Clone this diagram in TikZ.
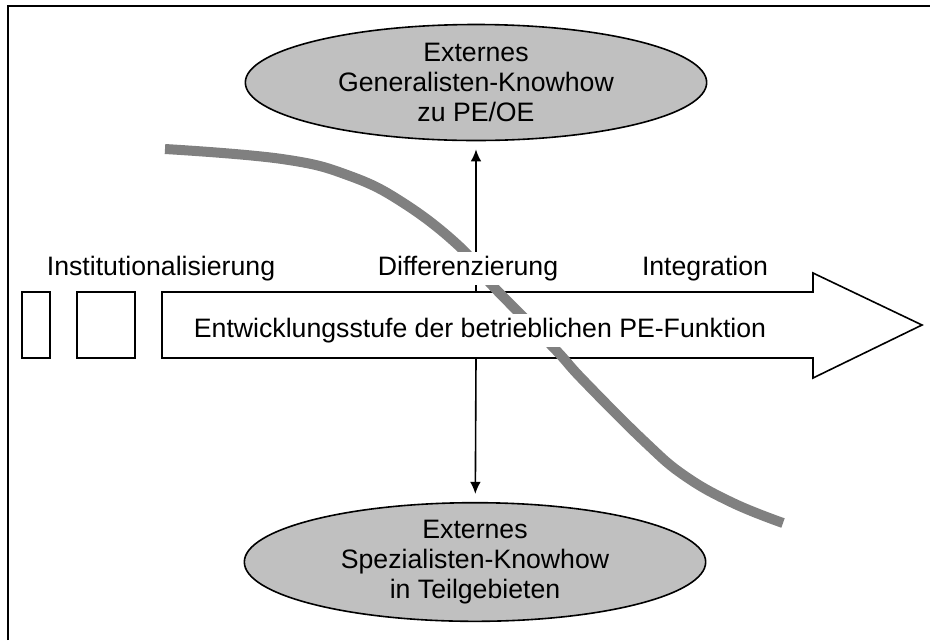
\documentclass[tikz,border=0pt]{standalone}
\usepackage{fontspec}
\setmainfont{Liberation Sans}
\usetikzlibrary{shapes.geometric,arrows.meta}
\definecolor{knowgray}{HTML}{C0C0C0}
\definecolor{curvegray}{HTML}{808080}
\tikzset{every picture/.style={line width=0.75pt}}

\begin{document}
\begin{tikzpicture}[x=0.75pt,y=0.75pt,yscale=-1,xscale=1,
  knowhow/.style={ellipse, draw, line width=1.2pt, fill=knowgray, minimum width=346pt, minimum height=87pt, align=center, inner sep=0pt, font=\fontsize{20}{22.5}\selectfont},
  stagelabel/.style={anchor=base, fill=white, inner sep=3pt, font=\fontsize{20}{22.5}\selectfont},
  link/.style={line width=1.2pt, -{Latex[length=9pt,width=8pt]}, shorten >=6pt}]
\useasboundingbox (0,0) rectangle (930,640);

%Frame: top and left edge only
\draw[line width=1.5pt] (8,640) -- (8,6) -- (930,6);

%Shape: small boxes in front of the arrow
\draw[line width=1.2pt] (22,292) rectangle (50,358);
\draw[line width=1.2pt] (77,292) rectangle (135,358);

%Ellipses
\node[knowhow] (gen) at (476,82.5) {Externes\\Generalisten-Knowhow\\zu PE/OE};
\node[knowhow] (spez) at (475,562) {Externes\\Spezialisten-Knowhow\\in Teilgebieten};

%Connectors
\coordinate (up) at (476,292);
\coordinate (down) at (476,358);
\draw[link] (up) -- (gen);
\draw[link] (down) -- (spez);

%Shape: big arrow
\draw[line width=1.2pt, fill=white] (162,292) -- (813,292) -- (813,273) -- (922,325) -- (813,378) -- (813,358) -- (162,358) -- cycle;

%Curve
\draw[line width=7.5pt, curvegray] plot[smooth, tension=0.7] coordinates {(165,149) (282,159) (350,176) (405,204) (460,247) (490,283) (553,347) (583,380) (645,442) (685,476) (733,503) (783,523)};

% Text Node
\node[stagelabel] (inst) at (161,275) {Institutionalisierung};
% Text Node
\node[stagelabel] (diff) at (468,275) {Differenzierung};
% Text Node
\node[stagelabel] (integ) at (705,275) {Integration};
% Text Node
\node[stagelabel] (stage) at (480,337) {Entwicklungsstufe der betrieblichen PE-Funktion};

\end{tikzpicture}
\end{document}
